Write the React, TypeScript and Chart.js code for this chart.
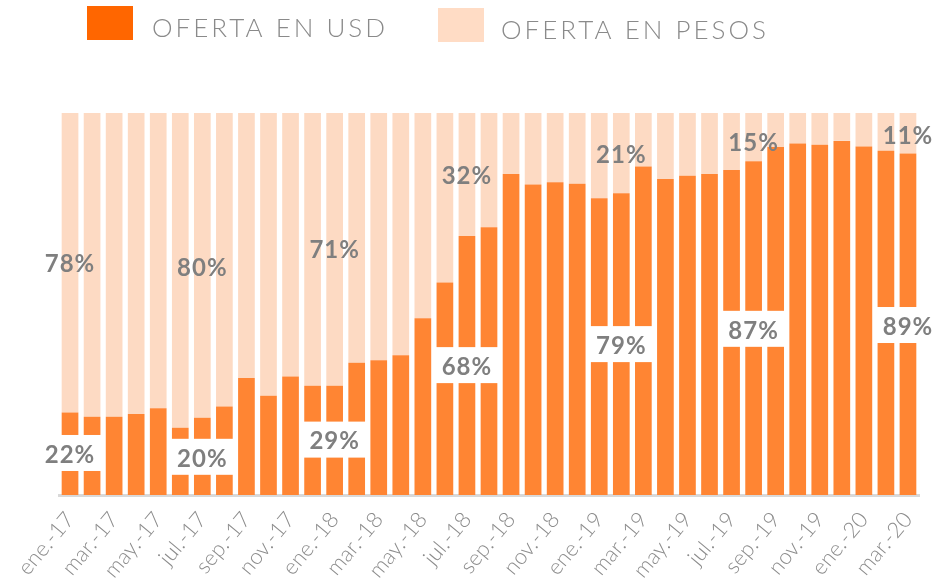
import React, { useEffect, useRef } from 'react';
import { Chart, registerables } from 'chart.js';

Chart.register(...registerables);

const categories = [
  'ene.-17', 'feb.-17', 'mar.-17', 'abr.-17', 'may.-17', 'jun.-17', 'jul.-17', 'ago.-17', 'sep.-17', 'oct.-17', 'nov.-17', 'dic.-17',
  'ene.-18', 'feb.-18', 'mar.-18', 'abr.-18', 'may.-18', 'jun.-18', 'jul.-18', 'ago.-18', 'sep.-18', 'oct.-18', 'nov.-18', 'dic.-18',
  'ene.-19', 'feb.-19', 'mar.-19', 'abr.-19', 'may.-19', 'jun.-19', 'jul.-19', 'ago.-19', 'sep.-19', 'oct.-19', 'nov.-19', 'dic.-19',
  'ene.-20', 'feb.-20', 'mar.-20',
];

const usdShare = [
  21.6, 20.5, 20.5, 21.2, 22.7, 17.6, 20.2, 23.2, 30.6, 26.0, 31.0, 28.6,
  28.6, 34.6, 35.3, 36.6, 46.3, 55.6, 67.8, 70.1, 84.0, 81.3, 81.9, 81.5,
  77.7, 79.0, 86.0, 82.7, 83.6, 84.0, 85.1, 87.4, 91.1, 92.0, 91.7, 92.7,
  91.2, 90.1, 89.4,
];

const pesosShare = [
  78.4, 79.5, 79.5, 78.8, 77.3, 82.4, 79.8, 76.8, 69.4, 74.0, 69.0, 71.4,
  71.4, 65.4, 64.7, 63.4, 53.7, 44.4, 32.2, 29.9, 16.0, 18.7, 18.1, 18.5,
  22.3, 21.0, 14.0, 17.3, 16.4, 16.0, 14.9, 12.6, 8.9, 8.0, 8.3, 7.3,
  8.8, 9.9, 10.6,
];

const labelIndex = [0, 6, 12, 18, 25, 31, 38];
const usdLabelValues = [22, 20, 29, 68, 79, 87, 89];
const pesosLabelValues = [78, 80, 71, 32, 21, 15, 11];

const seriesNames = ['OFERTA EN USD', 'OFERTA EN PESOS'];
const barColors = ['#FF8533', '#FDDAC3'];
const legendColors = ['#FF6600', '#FFDCC5'];

const percentPlugin = {
  id: 'percentLabels',
  afterDatasetsDraw(chart: any) {
    const { ctx, scales } = chart;
    const x = scales.x;
    const y = scales.y;
    ctx.save();
    ctx.font = '700 24px Lato';
    (ctx as any).letterSpacing = '1px';
    ctx.textAlign = 'center';
    ctx.textBaseline = 'middle';
    labelIndex.forEach((idx, i) => {
      const cx = x.getPixelForValue(idx);
      const low = usdLabelValues[i] + '%';
      const yl = y.getPixelForValue(usdLabelValues[i] / 2) + 2;
      const w = ctx.measureText(low).width + 14;
      ctx.fillStyle = '#ffffff';
      ctx.fillRect(cx - w / 2, yl - 20, w, 36);
      ctx.fillStyle = '#7f7f7f';
      ctx.fillText(low, cx, yl);
      const up = pesosLabelValues[i] + '%';
      const yu = y.getPixelForValue(100 - pesosLabelValues[i] / 2) + 2;
      ctx.fillText(up, cx, yu);
    });
    ctx.restore();
  },
};

const legendPlugin = {
  id: 'topLegend',
  afterDraw(chart: any) {
    const { ctx } = chart;
    const spots = [
      { x: 87, y: 6, tx: 152, ty: 36.7 },
      { x: 438, y: 8, tx: 501, ty: 39.3 },
    ];
    ctx.save();
    chart.data.datasets.forEach((ds: any, i: number) => {
      const s = spots[i];
      ctx.fillStyle = legendColors[i];
      ctx.fillRect(s.x, s.y, 46, 34);
      ctx.fillStyle = '#8a8a8a';
      ctx.font = '300 26px Lato';
      (ctx as any).letterSpacing = '3px';
      ctx.textAlign = 'left';
      ctx.textBaseline = 'alphabetic';
      ctx.fillText(ds.label, s.tx, s.ty);
    });
    ctx.restore();
  },
};

export default function App() {
  const canvasRef = useRef<HTMLCanvasElement>(null);

  useEffect(() => {
    if (!canvasRef.current) return;
    const chart = new Chart(canvasRef.current, {
      type: 'bar',
      data: {
        labels: categories,
        datasets: [
          {
            label: seriesNames[0],
            data: usdShare,
            backgroundColor: barColors[0],
            barPercentage: 0.757,
            categoryPercentage: 1,
            borderWidth: 0,
          },
          {
            label: seriesNames[1],
            data: pesosShare,
            backgroundColor: barColors[1],
            barPercentage: 0.757,
            categoryPercentage: 1,
            borderWidth: 0,
          },
        ],
      },
      options: {
        animation: false,
        responsive: true,
        maintainAspectRatio: false,
        layout: { padding: { top: 113, left: 59, right: 18, bottom: 0 } },
        plugins: {
          legend: { display: false },
          tooltip: { enabled: false },
        },
        scales: {
          x: {
            stacked: true,
            grid: { display: false, drawTicks: false },
            border: { display: true, color: '#d9d9d9', width: 3 },
            ticks: {
              autoSkip: false,
              minRotation: 50,
              maxRotation: 50,
              padding: 12,
              color: '#8c8c8c',
              font: { family: 'Lato', size: 22, weight: '300' },
              callback: (_v: any, i: number) => (i % 2 === 0 ? categories[i] : ''),
            },
            afterFit: (s: any) => {
              s.paddingLeft = 0;
              s.paddingRight = 0;
              s.height = 93;
            },
          },
          y: {
            stacked: true,
            display: false,
            min: 0,
            max: 100,
          },
        },
      },
      plugins: [percentPlugin, legendPlugin],
    });
    return () => chart.destroy();
  }, []);

  return (
    <div style={{ position: 'fixed', left: 0, top: 0, width: 937, height: 588, background: '#fff' }}>
      <canvas ref={canvasRef} />
    </div>
  );
}
